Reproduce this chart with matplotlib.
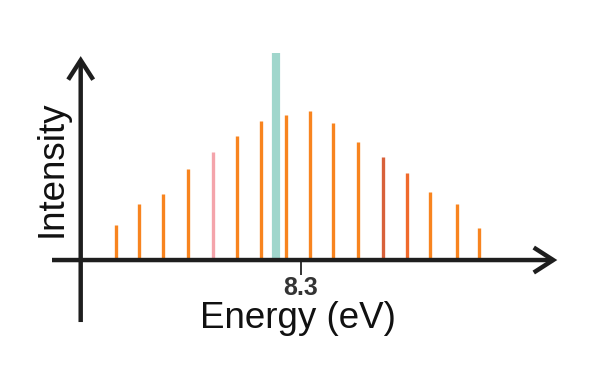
import matplotlib.pyplot as plt

plt.rcParams['font.family'] = ['Liberation Sans', 'DejaVu Sans']

# 数据：能量位置 (eV) 与相对强度
energies = [7.539, 7.636, 7.735, 7.836, 7.938, 8.038, 8.135, 8.197, 8.240,
            8.338, 8.432, 8.537, 8.637, 8.737, 8.833, 8.943, 9.033]
intensities = [0.17, 0.27, 0.32, 0.44, 0.52, 0.60, 0.67, 1.00, 0.70,
               0.72, 0.66, 0.57, 0.50, 0.42, 0.33, 0.27, 0.155]
tick_values = [8.3]
tick_labels = ['8.3']

# 样式：高亮的谱线
base_color = '#f8841f'
highlight = {4: '#f4a4ab', 7: '#a0d6cc', 12: '#d8613a', 13: '#f06a2c'}
colors = [highlight.get(i, base_color) for i in range(len(energies))]
widths = [5.9 if i == 7 else 2.4 for i in range(len(energies))]

fig = plt.figure(figsize=(5.98, 3.65), dpi=100)
ax = fig.add_axes([0, 0, 1, 1])
ax.set_xlim(7.0626, 9.5235)
ax.set_ylim(-0.507, 1.256)

# 绘制谱线
ax.vlines(energies, 0, intensities, colors=colors, linewidths=widths,
          capstyle='butt', zorder=2)

# 坐标轴箭头
axis_color = '#1e1e1e'
arrow = dict(arrowstyle='->,head_length=14,head_width=9', lw=3.2,
             color=axis_color, mutation_scale=1, shrinkA=0, shrinkB=0,
             joinstyle='miter', capstyle='butt')
ax.annotate('', xy=(9.356, 0), xytext=(7.2766, 0), arrowprops=arrow, zorder=3)
ax.annotate('', xy=(7.3947, 0.985), xytext=(7.3947, -0.2995),
            arrowprops=arrow, zorder=3)

# 刻度
for s in ax.spines.values():
    s.set_visible(False)
ax.spines['bottom'].set_position(('data', 0))
ax.set_yticks([])
ax.set_xticks(tick_values, tick_labels, fontweight='bold')
ax.tick_params(axis='x', direction='out', length=10.8, width=1.4,
               color='#333333', pad=0.6, labelsize=18, labelcolor='#333333')

# 标签
ax.text(298 / 598, 1 - 327.7 / 365, 'Energy (eV)', transform=ax.transAxes,
        ha='center', va='baseline', fontsize=26.5, color='#111111')
ax.text(61.7 / 598, 1 - 168.5 / 365, 'Intensity', transform=ax.transAxes,
        rotation=90, rotation_mode='anchor', ha='center', va='baseline',
        fontsize=26.5, color='#111111')

plt.savefig('out.png')
